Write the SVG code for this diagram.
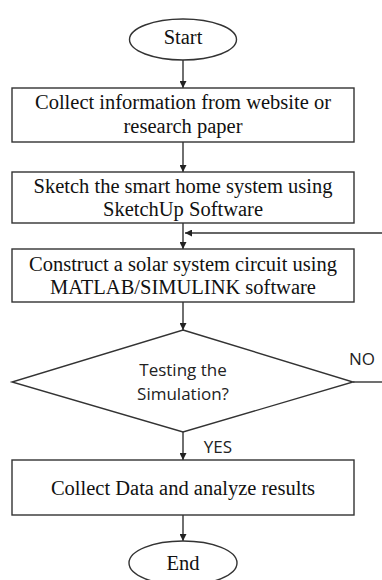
<svg xmlns="http://www.w3.org/2000/svg" width="382" height="580" viewBox="0 0 382 580">
<style>
.shape{fill:#fff;stroke:#333;stroke-width:1.4}
.line{fill:none;stroke:#333;stroke-width:1.4}
.serif{font-family:"Liberation Serif","Times New Roman",serif;font-size:20.5px;fill:#111;text-anchor:middle}
.sans{font-family:"Open Sans","Noto Sans",sans-serif;font-size:17px;fill:#222;text-anchor:middle}
</style>
<defs>
<marker id="arr" viewBox="0 0 10 10" refX="10" refY="5" markerWidth="7" markerHeight="7" markerUnits="userSpaceOnUse" orient="auto">
<path d="M0,0 L10,5 L0,10 z" fill="#222"/>
</marker>
</defs>
<rect width="382" height="580" fill="#fff"/>
<g id="connectors">
<line class="line" x1="183" y1="60" x2="183" y2="88" marker-end="url(#arr)"/>
<line class="line" x1="183" y1="142" x2="183" y2="172" marker-end="url(#arr)"/>
<line class="line" x1="183" y1="223" x2="183" y2="249" marker-end="url(#arr)"/>
<line class="line" x1="382" y1="233" x2="185" y2="233" marker-end="url(#arr)"/>
<line class="line" x1="183" y1="302" x2="183" y2="330" marker-end="url(#arr)"/>
<line class="line" x1="353" y1="382" x2="382" y2="382"/>
<line class="line" x1="183" y1="432" x2="183" y2="460" marker-end="url(#arr)"/>
<line class="line" x1="183" y1="515" x2="183" y2="541" marker-end="url(#arr)"/>
<text class="sans" x="362" y="365">NO</text>
<text class="sans" x="218" y="453">YES</text>
</g>
<g id="start">
<ellipse class="shape" cx="183" cy="39.5" rx="53.5" ry="20.5"/>
<text class="serif" x="183" y="44">Start</text>
</g>
<g id="collect-info">
<rect class="shape" x="12" y="88" width="342" height="54"/>
<text class="serif" x="183" y="108.5">Collect information from website or</text>
<text class="serif" x="183" y="132.5">research paper</text>
</g>
<g id="sketch">
<rect class="shape" x="12" y="172" width="342" height="51"/>
<text class="serif" x="183" y="192.5">Sketch the smart home system using</text>
<text class="serif" x="183" y="215.5">SketchUp Software</text>
</g>
<g id="construct">
<rect class="shape" x="12" y="249" width="342" height="53"/>
<text class="serif" x="183" y="270.5">Construct a solar system circuit using</text>
<text class="serif" x="183" y="294">MATLAB/SIMULINK software</text>
</g>
<g id="testing">
<polygon class="shape" points="183,330 353,382 183,432 12,382"/>
<text class="sans" x="183" y="375.5">Testing the</text>
<text class="sans" x="183" y="400">Simulation?</text>
</g>
<g id="collect-data">
<rect class="shape" x="12" y="460" width="342" height="55"/>
<text class="serif" x="183" y="495">Collect Data and analyze results</text>
</g>
<g id="end">
<ellipse class="shape" cx="183" cy="563" rx="54" ry="22"/>
<text class="serif" x="183" y="570">End</text>
</g>
</svg>
